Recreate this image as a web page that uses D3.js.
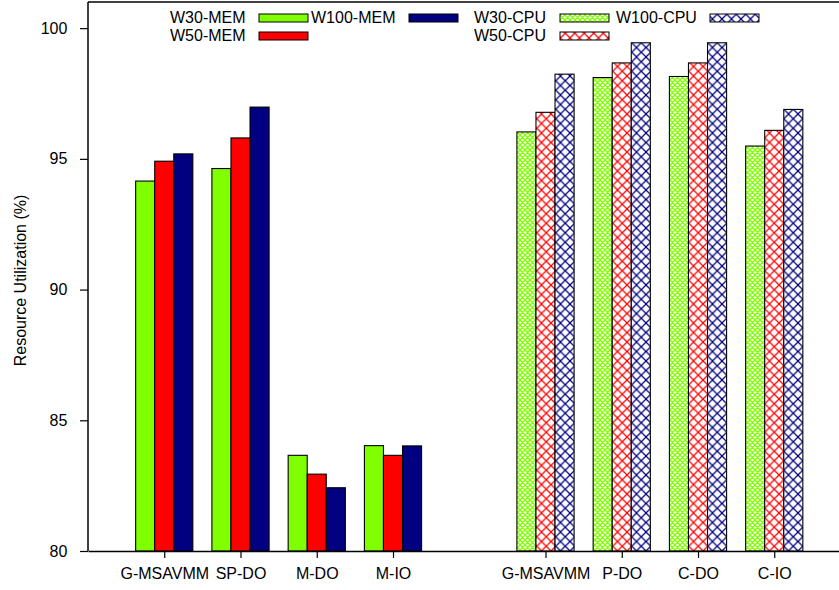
<!DOCTYPE html>
<html>
<head>
<meta charset="utf-8">
<script src="https://cdn.jsdelivr.net/npm/d3@7/dist/d3.min.js"></script>
<style>
  html, body { margin: 0; padding: 0; background: #fff; }
  svg { display: block; font-family: "Liberation Sans", Arial, sans-serif; }
</style>
</head>
<body>
<svg id="chart" width="839" height="590"></svg>
<script>
// Memory utilisation (solid bars) per method
const memCategories = ["G-MSAVMM", "SP-DO", "M-DO", "M-IO"];
const memW30  = [94.15, 94.63, 83.66, 84.03];
const memW50  = [94.91, 95.80, 82.94, 83.66];
const memW100 = [95.19, 96.98, 82.42, 84.02];

// CPU utilisation (hatched bars) per method
const cpuCategories = ["G-MSAVMM", "P-DO", "C-DO", "C-IO"];
const cpuW30  = [96.03, 98.11, 98.15, 95.49];
const cpuW50  = [96.78, 98.67, 98.67, 96.09];
const cpuW100 = [98.24, 99.44, 99.44, 96.89];

const yTicks = [80, 85, 90, 95, 100];

const seriesNames = ["W30-MEM", "W50-MEM", "W100-MEM", "W30-CPU", "W50-CPU", "W100-CPU"];
const green = "#80ff00", red = "#ff0000", navy = "#000080";

const svg = d3.select("#chart");
const plotLeft = 88, plotTop = 2, plotBottom = 551;
const slot = 76.25;

// Slots 1-4 hold memory groups, slot 5 is left empty, slots 6-9 hold CPU groups
const x = d3.scaleLinear().domain([0, 10]).range([plotLeft, plotLeft + 10 * slot]);
const y = d3.scaleLinear().domain([80, 101]).range([plotBottom, plotTop]);
const sub = d3.scaleBand().domain([0, 1, 2]).range([-slot * 0.375, slot * 0.375]);

// Cross-hatch patterns for the CPU series
const defs = svg.append("defs");
function hatch(id, color, size) {
  const p = defs.append("pattern")
    .attr("id", id).attr("patternUnits", "userSpaceOnUse")
    .attr("width", size).attr("height", size);
  p.append("rect").attr("width", size).attr("height", size).attr("fill", "#fff");
  p.append("path")
    .attr("d", `M0,0L${size},${size}M${size},0L0,${size}M${-size/2},${size/2}L${size/2},${size*1.5}M${size/2},${-size/2}L${size*1.5},${size/2}`)
    .attr("stroke", color).attr("stroke-width", 1.25).attr("fill", "none");
  return `url(#${id})`;
}
const fills = [green, red, navy, hatch("h30", green, 5), hatch("h50", red, 9.5), hatch("h100", navy, 9.5)];

const groups = [];
memCategories.forEach((c, i) => groups.push({ pos: i + 1, vals: [memW30[i], memW50[i], memW100[i]], off: 0 }));
cpuCategories.forEach((c, i) => groups.push({ pos: i + 6, vals: [cpuW30[i], cpuW50[i], cpuW100[i]], off: 3 }));

const bars = [];
groups.forEach(g => g.vals.forEach((v, k) => bars.push({ pos: g.pos, k, v, fill: fills[g.off + k] })));

svg.append("g").selectAll("rect").data(bars).join("rect")
  .attr("x", d => x(d.pos) + sub(d.k))
  .attr("width", sub.bandwidth())
  .attr("y", d => y(d.v))
  .attr("height", d => y(80) - y(d.v))
  .attr("fill", d => d.fill)
  .attr("stroke", "#000").attr("stroke-width", 1.1);

// Axes
const xTickPos = [1, 2, 3, 4, 6, 7, 8, 9];
const xLabels = memCategories.concat(cpuCategories);
const xAxis = d3.axisBottom(x).tickValues(xTickPos)
  .tickFormat((d, i) => xLabels[i]).tickSize(7).tickSizeOuter(0);
const gx = svg.append("g").attr("transform", `translate(0,${plotBottom})`).call(xAxis);
gx.selectAll("text").attr("font-size", 16).attr("fill", "#000").attr("dy", "1.1em");

const yAxis = d3.axisLeft(y).tickValues(yTicks).tickSize(8).tickSizeOuter(0);
const gy = svg.append("g").attr("transform", `translate(${plotLeft},0)`).call(yAxis);
gy.selectAll("text").attr("font-size", 16).attr("fill", "#000").attr("dx", "-0.6em");

[gx, gy].forEach(g => {
  g.select(".domain").attr("stroke", "#000").attr("stroke-width", 1.5);
  g.selectAll(".tick line").attr("stroke", "#000").attr("stroke-width", 1.2);
  g.attr("font-family", null);
});
gy.select(".domain").attr("d", `M0,${plotBottom}V${plotTop}`);

// Frame top edge
svg.append("line").attr("x1", plotLeft).attr("x2", 839).attr("y1", plotTop).attr("y2", plotTop)
  .attr("stroke", "#000").attr("stroke-width", 1.5);

// Y axis title
svg.append("text")
  .attr("transform", `translate(26,${(plotTop + plotBottom) / 2 + 4}) rotate(-90)`)
  .attr("text-anchor", "middle").attr("font-size", 16).text("Resource Utilization (%)");

// Legend
const legendItems = [
  { name: seriesNames[0], fill: fills[0], tx: 170, sx: 259, row: 0 },
  { name: seriesNames[2], fill: fills[2], tx: 311, sx: 409, row: 0 },
  { name: seriesNames[1], fill: fills[1], tx: 170, sx: 259, row: 1 },
  { name: seriesNames[3], fill: fills[3], tx: 474, sx: 560, row: 0 },
  { name: seriesNames[5], fill: fills[5], tx: 616, sx: 710, row: 0 },
  { name: seriesNames[4], fill: fills[4], tx: 474, sx: 560, row: 1 }
];
const lg = svg.append("g");
lg.selectAll("text").data(legendItems).join("text")
  .attr("x", d => d.tx).attr("y", d => 23 + d.row * 18)
  .attr("font-size", 16).text(d => d.name);
lg.selectAll("rect").data(legendItems).join("rect")
  .attr("x", d => d.sx).attr("y", d => 14 + d.row * 18)
  .attr("width", 49).attr("height", 8)
  .attr("fill", d => d.fill).attr("stroke", "#000").attr("stroke-width", 1);
</script>
</body>
</html>
